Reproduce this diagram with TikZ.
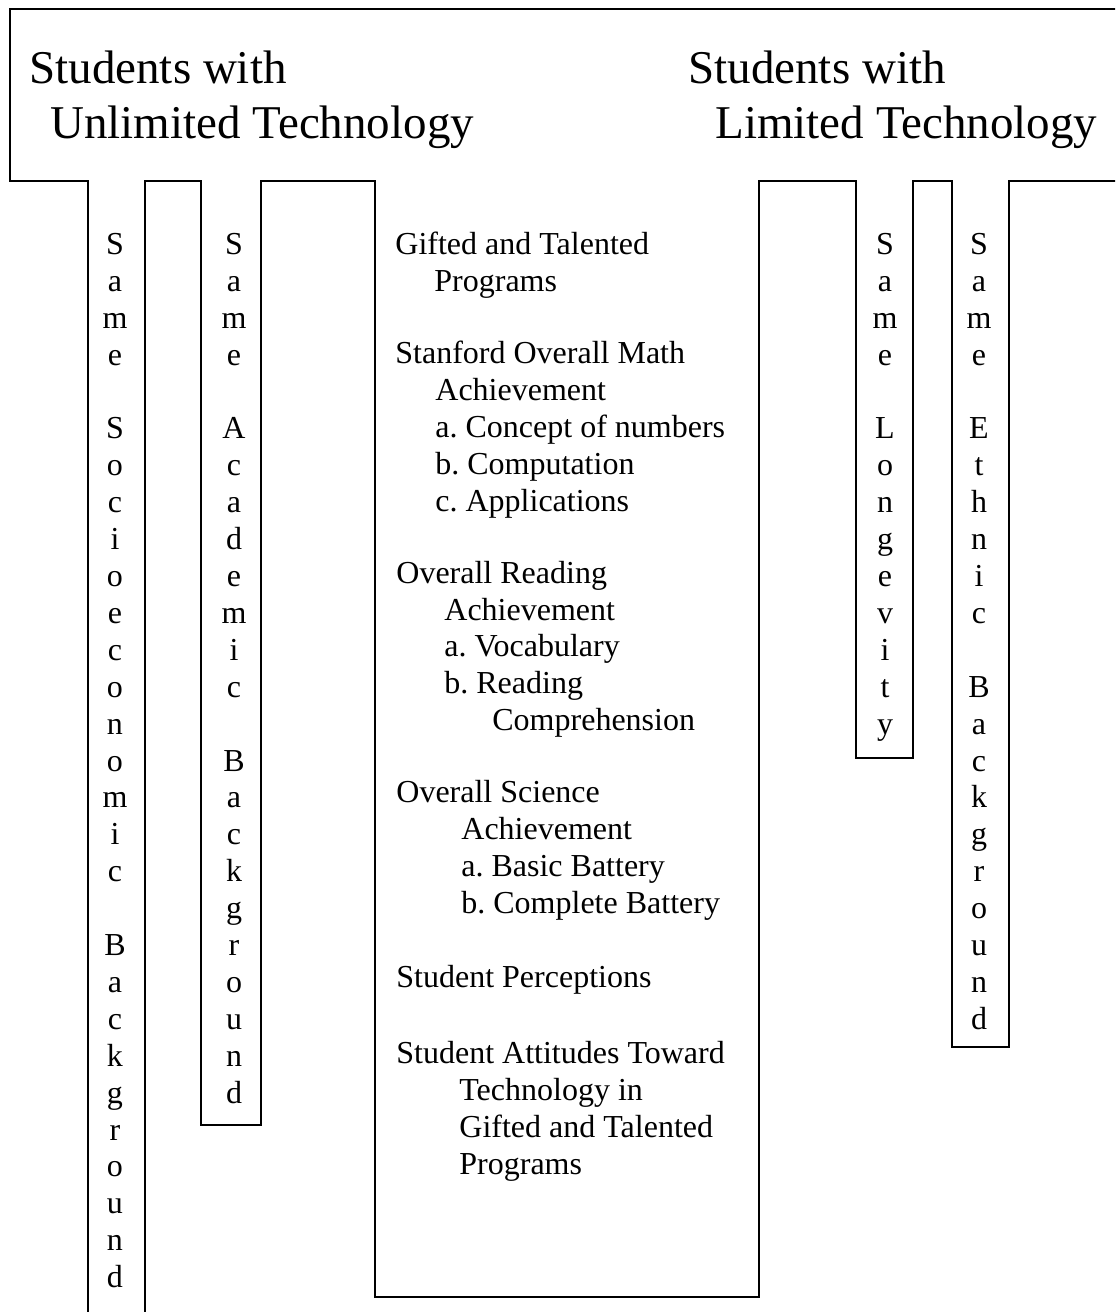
\documentclass[tikz,border=0pt]{standalone}
\usepackage{fontspec}
\setmainfont{Liberation Serif}
\begin{document}
\begin{tikzpicture}[x=0.5pt,y=-0.5pt,
  frame/.style={line width=1pt, line join=miter},
  head/.style={font=\fontsize{23.5}{27.5}\selectfont, inner sep=0pt, anchor=base west},
  item/.style={font=\fontsize{16}{18.4}\selectfont\frenchspacing, inner sep=0pt, anchor=north west, align=left},
  letters/.style={font=\fontsize{16}{18.45}\selectfont, inner sep=0pt, anchor=north, align=center}]
\useasboundingbox (0,0) rectangle (1115,1312);
\fill[white] (0,0) rectangle (1115,1312);

% header band with the columns hanging from it
\begin{scope}
\clip (0,0) rectangle (1115,1312);
\draw[frame] (1130,9) -- (10,9) -- (10,181) -- (88,181) -- (88,1330);
\draw[frame] (145,1330) -- (145,181) -- (201,181) -- (201,1125) -- (261,1125)
  -- (261,181) -- (375,181) -- (375,1297) -- (759,1297) -- (759,181)
  -- (856,181) -- (856,758) -- (913,758) -- (913,181) -- (952,181)
  -- (952,1047) -- (1009,1047) -- (1009,181) -- (1130,181);
\end{scope}

% group headings
\node[head] (unlimA) at (29,83) {Students with};
\node[head] (unlimB) at (50,138) {Unlimited Technology};
\node[head] (limA) at (688,83) {Students with};
\node[head] (limB) at (715,138) {Limited Technology};

% vertical column labels
\node[letters] (socio) at (115,228.2) {\strut S\\a\\m\\e\\[18.45pt]S\\o\\c\\i\\o\\e\\c\\o\\n\\o\\m\\i\\c\\[18.45pt]B\\a\\c\\k\\g\\r\\o\\u\\n\\d};
\node[letters] (acad) at (234,228.2) {\strut S\\a\\m\\e\\[18.45pt]A\\c\\a\\d\\e\\m\\i\\c\\[18.45pt]B\\a\\c\\k\\g\\r\\o\\u\\n\\d};
\node[letters] (longev) at (885,228.2) {\strut S\\a\\m\\e\\[18.45pt]L\\o\\n\\g\\e\\v\\i\\t\\y};
\node[letters] (ethnic) at (979,228.2) {\strut S\\a\\m\\e\\[18.45pt]E\\t\\h\\n\\i\\c\\[18.45pt]B\\a\\c\\k\\g\\r\\o\\u\\n\\d};

% outcome measures
\node[item] (gifted) at (395,228.2) {\strut Gifted and Talented\\\hspace*{19.5pt}Programs};
\node[item] (math) at (395,337.7) {\strut Stanford Overall Math\\\hspace*{20pt}Achievement\\\hspace*{20pt}a. Concept of numbers\\\hspace*{20pt}b. Computation\\\hspace*{20pt}c. Applications};
\node[item] (reading) at (396,557.2) {\strut Overall Reading\\\hspace*{24pt}Achievement\\\hspace*{24pt}a. Vocabulary\\\hspace*{24pt}b. Reading\\\hspace*{48pt}Comprehension};
\node[item] (science) at (396,776.7) {\strut Overall Science\\\hspace*{32.5pt}Achievement\\\hspace*{32.5pt}a. Basic Battery\\\hspace*{32.5pt}b. Complete Battery};
\node[item] (percep) at (396,961.2) {\strut Student Perceptions};
\node[item] (attit) at (396,1037.7) {\strut Student Attitudes Toward\\\hspace*{31.5pt}Technology in\\\hspace*{31.5pt}Gifted and Talented\\\hspace*{31.5pt}Programs};
\end{tikzpicture}
\end{document}
